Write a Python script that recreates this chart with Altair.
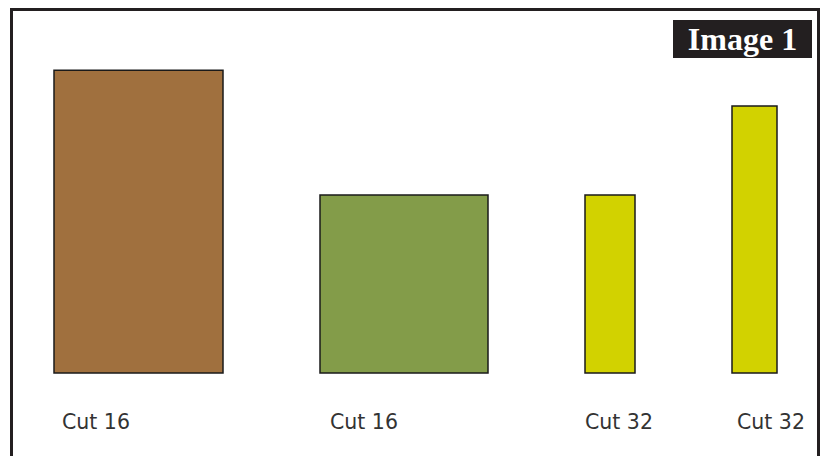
import altair as alt
import pandas as pd

# data
labels = ["Cut 16", "Cut 16", "Cut 32", "Cut 32"]
values = [3.4, 2.0, 2.0, 3.0]
x_start = [46, 312, 577, 724]
x_end = [215, 480, 627, 769]
label_x = [54, 322, 577, 729]
colors = ["#A0703E", "#839C49", "#D2D200", "#D2D200"]
badge_text = ["Image 1"]

W, H = 812, 448

df = pd.DataFrame({
    "label": labels, "value": values, "x0": x_start, "x1": x_end,
    "lx": label_x, "color": colors, "id": list(range(len(labels))),
})

xs = alt.Scale(domain=[0, W], range=[0, W], nice=False, zero=False)
ys = alt.Scale(domain=[0, 4.1], range=[365, 0], nice=False, zero=False)

bars = alt.Chart(df).mark_rect(stroke="#1a1a1a", strokeWidth=1.5).encode(
    x=alt.X("x0:Q", scale=xs, axis=None),
    x2="x1:Q",
    y=alt.Y("value:Q", scale=ys, axis=None),
    y2=alt.datum(0),
    color=alt.Color("color:N", scale=None, legend=None),
)

texts = alt.Chart(df).mark_text(
    align="left", baseline="middle", font="DejaVu Sans", fontSize=20.5, color="#333333"
).encode(
    x=alt.X("lx:Q", scale=xs, axis=None),
    y=alt.value(414.5),
    text="label:N",
)

one = pd.DataFrame({"t": badge_text})

badge = alt.Chart(one).mark_rect(color="#231f20").encode(
    x=alt.value(665), x2=alt.value(804), y=alt.value(12), y2=alt.value(50)
)
badge_txt = alt.Chart(one).mark_text(
    align="center", baseline="alphabetic", font="Liberation Serif", fontSize=32,
    fontWeight="bold", color="white"
).encode(x=alt.value(734.5), y=alt.value(42), text="t:N")

frame_col = "#231f20"
left = alt.Chart(one).mark_rule(color=frame_col, strokeWidth=3).encode(
    x=alt.value(3.5), y=alt.value(0), y2=alt.value(H))
top = alt.Chart(one).mark_rule(color=frame_col, strokeWidth=3).encode(
    x=alt.value(2), x2=alt.value(W), y=alt.value(1.5))
right = alt.Chart(one).mark_rule(color=frame_col, strokeWidth=3).encode(
    x=alt.value(W - 1.5), y=alt.value(0), y2=alt.value(H))

chart = alt.layer(bars, texts, badge, badge_txt, left, top, right).properties(
    width=W, height=H, padding=0, autosize=alt.AutoSizeParams(type="none")
).configure_view(stroke=None).resolve_scale(x="shared", y="shared")

chart.save("out.html", embed_options={"renderer": "svg", "actions": False})
